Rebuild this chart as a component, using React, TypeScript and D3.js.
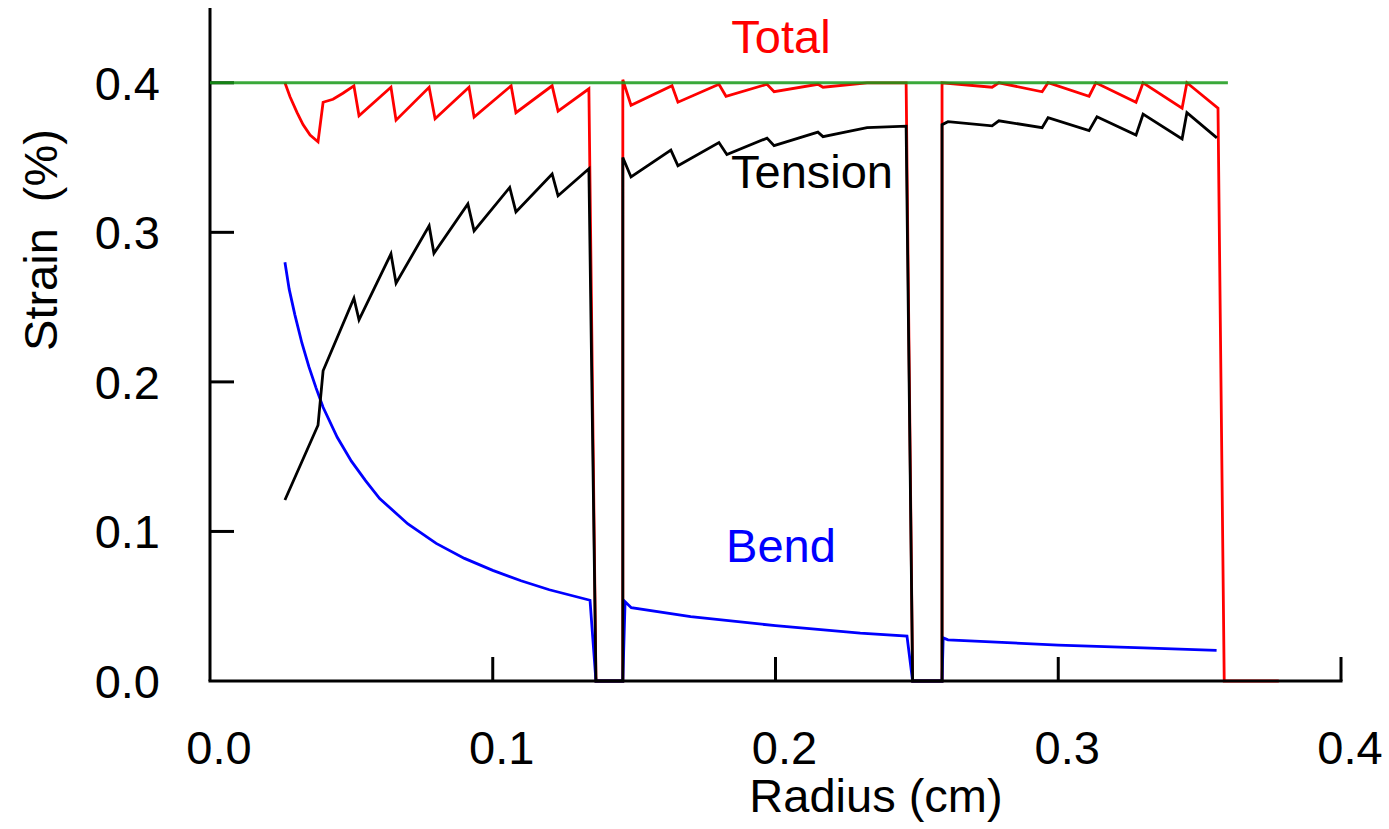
import React from "react";
import * as d3 from "d3";

// strain vs radius
const totalStrain: [number, number][] = [
  [0.0265, 0.4], [0.0283, 0.3906], [0.0308, 0.38], [0.0329, 0.372], [0.0354, 0.365], [0.0382, 0.3605],
  [0.04, 0.387], [0.0435, 0.389], [0.047, 0.393], [0.0509, 0.398], [0.0527, 0.378],
  [0.064, 0.397], [0.0658, 0.375], [0.0775, 0.397], [0.0796, 0.376], [0.0916, 0.397], [0.0934, 0.377],
  [0.1065, 0.398], [0.1082, 0.38], [0.121, 0.398], [0.1231, 0.381], [0.134, 0.396],
  [0.1365, 0], [0.146, 0], [0.146, 0.402], [0.1489, 0.385], [0.1634, 0.398], [0.1655, 0.387],
  [0.18, 0.399], [0.1825, 0.391], [0.197, 0.399], [0.1995, 0.394], [0.215, 0.399], [0.2168, 0.397],
  [0.2324, 0.4], [0.2462, 0.4], [0.2485, 0], [0.2589, 0], [0.2589, 0.4],
  [0.2766, 0.397], [0.279, 0.4], [0.2943, 0.394], [0.2964, 0.4], [0.3109, 0.391], [0.3133, 0.4],
  [0.3275, 0.387], [0.33, 0.4], [0.3438, 0.383], [0.3455, 0.4], [0.3565, 0.383],
  [0.3587, 0], [0.378, 0],
];

const tensionStrain: [number, number][] = [
  [0.0265, 0.121], [0.0382, 0.171], [0.04, 0.2074], [0.0509, 0.256], [0.0527, 0.2415],
  [0.064, 0.2856], [0.0658, 0.266], [0.0775, 0.3043], [0.0792, 0.286], [0.0912, 0.319], [0.0934, 0.301],
  [0.106, 0.33], [0.1082, 0.3137], [0.121, 0.339], [0.1231, 0.3244], [0.134, 0.3425],
  [0.1365, 0], [0.146, 0], [0.146, 0.35], [0.1489, 0.337], [0.163, 0.355], [0.1655, 0.3445],
  [0.18, 0.36], [0.1828, 0.352], [0.197, 0.363], [0.1995, 0.358], [0.215, 0.367], [0.2168, 0.364],
  [0.2246, 0.367], [0.2324, 0.37], [0.2462, 0.371], [0.2485, 0], [0.2589, 0], [0.2589, 0.372],
  [0.261, 0.374], [0.2766, 0.3712], [0.279, 0.3746], [0.2943, 0.37], [0.2964, 0.3766],
  [0.3109, 0.368], [0.3137, 0.3773], [0.3275, 0.365], [0.33, 0.379], [0.3438, 0.3625],
  [0.3455, 0.38], [0.3561, 0.3632],
];

const bendStrain: [number, number][] = [
  [0.0265, 0.28], [0.028, 0.262], [0.03, 0.245], [0.0325, 0.226], [0.035, 0.21], [0.0375, 0.196],
  [0.04, 0.183], [0.045, 0.163], [0.05, 0.147], [0.055, 0.134], [0.06, 0.122], [0.07, 0.105],
  [0.08, 0.092], [0.09, 0.082], [0.1, 0.074], [0.11, 0.067], [0.12, 0.061], [0.1344, 0.054],
  [0.1365, 0], [0.146, 0], [0.1468, 0.053], [0.149, 0.049], [0.17, 0.043], [0.2, 0.037],
  [0.23, 0.032], [0.2465, 0.03], [0.2485, 0], [0.2589, 0], [0.2593, 0.0288], [0.261, 0.0275],
  [0.3, 0.024], [0.33, 0.0222], [0.356, 0.0205],
];

const limitStrain: [number, number][] = [[0, 0.4], [0.36, 0.4]];

const xTicks = [0, 0.1, 0.2, 0.3, 0.4];
const yTicks = [0, 0.1, 0.2, 0.3, 0.4];

const font = "'Liberation Sans', Arial, sans-serif";

export default function App() {
  const x = d3.scaleLinear().domain([0, 0.4]).range([210, 1341]);
  const y = d3.scaleLinear().domain([0, 0.45]).range([681, 8]);
  const line = d3
    .line<[number, number]>()
    .x((d) => x(d[0]))
    .y((d) => y(d[1]));

  const tickLen = 24;

  return (
    <svg
      width={1389}
      height={829}
      style={{ position: "absolute", left: 0, top: 0, background: "#fff" }}
      fontFamily={font}
    >
      <path d={line(totalStrain) || ""} fill="none" stroke="#ff0000" strokeWidth={2.8} />
      <path d={line(bendStrain) || ""} fill="none" stroke="#0000ff" strokeWidth={2.8} />
      <path d={line(tensionStrain) || ""} fill="none" stroke="#000" strokeWidth={2.8} />

      {/* axes */}
      <line x1={x(0)} x2={x(0)} y1={y(0.45)} y2={y(0)} stroke="#000" strokeWidth={3} />
      <line x1={x(0) - 1.5} x2={x(0.4) + 1.5} y1={y(0)} y2={y(0)} stroke="#000" strokeWidth={3} />
      {xTicks.slice(1).map((t) => (
        <line key={"xt" + t} x1={x(t)} x2={x(t)} y1={y(0)} y2={y(0) - tickLen} stroke="#000" strokeWidth={3} />
      ))}
      {yTicks.slice(1).map((t) => (
        <line key={"yt" + t} x1={x(0)} x2={x(0) + tickLen} y1={y(t)} y2={y(t)} stroke="#000" strokeWidth={3} />
      ))}

      <path d={line(limitStrain) || ""} fill="none" stroke="#179a17" strokeWidth={3} strokeOpacity={0.85} />

      {xTicks.map((t) => (
        <text key={"xl" + t} x={x(t) + 9} y={764} fontSize={47} textAnchor="middle">
          {t.toFixed(1)}
        </text>
      ))}
      {yTicks.map((t) => (
        <text key={"yl" + t} x={160} y={y(t) + 17} fontSize={47} textAnchor="end">
          {t.toFixed(1)}
        </text>
      ))}

      <text x={876} y={812} fontSize={47} textAnchor="middle">
        Radius (cm)
      </text>
      <text transform="translate(57,240) rotate(-90)" fontSize={47} textAnchor="middle">
        Strain<tspan dx={26}>(%)</tspan>
      </text>

      <text x={781} y={53} fontSize={47} textAnchor="middle" fill="#ff0000">
        Total
      </text>
      <text x={812} y={188} fontSize={47} textAnchor="middle" fill="#000">
        Tension
      </text>
      <text x={781} y={562} fontSize={47} textAnchor="middle" fill="#0000ff">
        Bend
      </text>
    </svg>
  );
}
